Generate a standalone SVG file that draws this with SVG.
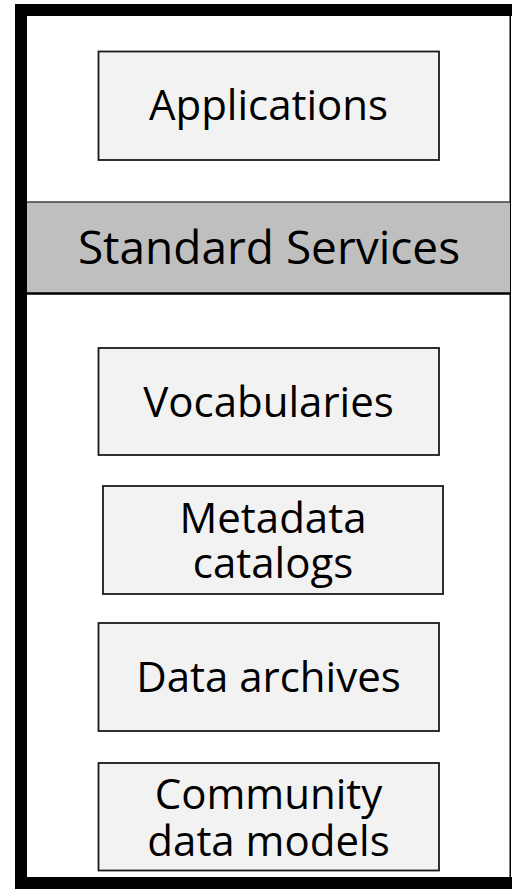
<svg xmlns="http://www.w3.org/2000/svg" width="512" height="889" viewBox="0 0 512 889">
<style>
.box{fill:#f2f2f2;stroke:#1a1a1a;stroke-width:1.8}
.t{font-family:"Open Sans","Noto Sans","Liberation Sans",sans-serif;font-size:42px;fill:#000;text-anchor:middle}
.big{font-size:46px}
</style>
<rect x="0" y="0" width="512" height="889" fill="#fff"/>
<g id="frame">
<rect x="15" y="4" width="497" height="12" fill="#000"/>
<rect x="15" y="4" width="12" height="885" fill="#000"/>
<rect x="509.5" y="4" width="1.5" height="885" fill="#000"/>
<rect x="15" y="877" width="497" height="12" fill="#000"/>
</g>
<g id="standard-services">
<rect x="27" y="202" width="483" height="92" fill="#bfbfbf"/>
<line x1="27" y1="202" x2="510" y2="202" stroke="#404040" stroke-width="1.5"/>
<line x1="27" y1="293.5" x2="510" y2="293.5" stroke="#000" stroke-width="2.5"/>
<text class="t big" x="269" y="264">Standard Services</text>
</g>
<g id="applications">
<rect class="box" x="98.5" y="51.5" width="340.5" height="108.5"/>
<text class="t" x="268.5" y="120">Applications</text>
</g>
<g id="vocabularies">
<rect class="box" x="98.5" y="348" width="340.5" height="107"/>
<text class="t" x="268.5" y="417">Vocabularies</text>
</g>
<g id="metadata-catalogs">
<rect class="box" x="103" y="486" width="340" height="108"/>
<text class="t" x="273" y="533">Metadata</text>
<text class="t" x="273" y="578">catalogs</text>
</g>
<g id="data-archives">
<rect class="box" x="98.5" y="623" width="340.5" height="108"/>
<text class="t" x="268.5" y="692">Data archives</text>
</g>
<g id="community-data-models">
<rect class="box" x="98.5" y="763" width="340.5" height="107.5"/>
<text class="t" x="268.5" y="809">Community</text>
<text class="t" x="268.5" y="856">data models</text>
</g>
<g id="connectors"></g>
</svg>
